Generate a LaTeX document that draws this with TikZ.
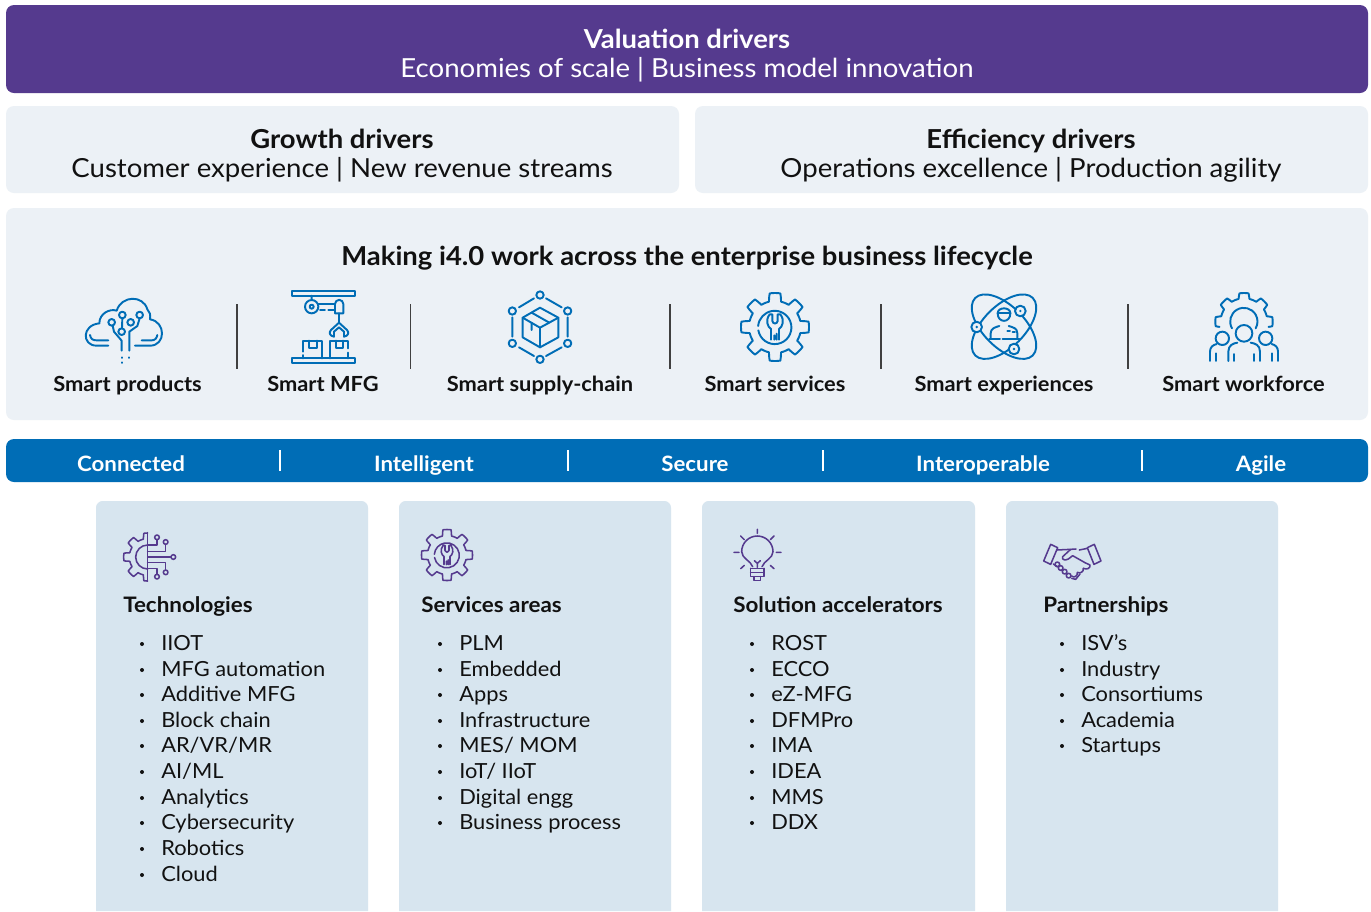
\documentclass[tikz,border=0pt]{standalone}
\usepackage{fontspec}
\setmainfont[FakeStretch=1.05]{Lato}
\definecolor{purp}{HTML}{553A8E}
\definecolor{pale}{HTML}{ECF1F6}
\definecolor{blu}{HTML}{006DB6}
\definecolor{card}{HTML}{D7E5EF}
\definecolor{ink}{HTML}{111111}
\tikzset{
  x=0.75pt,y=-0.75pt,
  head/.style={anchor=base,font=\fontsize{19.6}{22}\selectfont\bfseries,text=ink,inner sep=0pt},
  sub/.style={anchor=base,font=\fontsize{19.7}{22}\selectfont,text=ink,inner sep=0pt},
  smart/.style={anchor=base,font=\fontsize{15.6}{18}\selectfont\bfseries,text=ink,inner sep=0pt},
  barlabel/.style={anchor=base,font=\fontsize{15.9}{18}\selectfont\bfseries,text=white,inner sep=0pt},
  cardtitle/.style={anchor=base west,font=\fontsize{16}{18}\selectfont\bfseries,text=ink,inner sep=0pt},
  item/.style={anchor=base west,font=\fontsize{15.6}{18}\selectfont,text=ink,inner sep=0pt},
  ico/.style={draw=blu,line width=1.45pt,line cap=round,line join=round},
  pico/.style={draw=purp,line width=1.15pt,line cap=round,line join=round},
  divider/.style={draw=black!75,line width=0.9pt},
  bardiv/.style={draw=white,line width=0.9pt},
}
% gear outline: centre at the origin of the current scope
\newcommand{\gearline}[4]{% inner R, outer R, domain start, domain end
  plot[samples=241,domain=#3:#4,smooth] (\x:{#1+(#2-#1)*max(0,min(1,0.5+1.7*cos(8*(\x+90))))})}
\newcommand{\wrenchicon}{%
  (-50,10) arc[start angle=170,end angle=-175,radius=50]
  (-16,-38) .. controls (-30,-20) and (-22,0) .. (-12,6) -- (-12,38)
  (16,-38) .. controls (30,-20) and (22,0) .. (12,6) -- (12,38)
  (-16,-38) -- (-8,-38) -- (-8,-18) .. controls (-6,-8) and (6,-8) .. (8,-18) -- (8,-38) -- (16,-38)
  (-2,25) -- (-2,38) (5,20) -- (5,38)}
\newcommand{\listitems}[3]{% name prefix, text x, items
  \foreach \yy/\txt [count=\ii] in {#3}{
    \node[item] (#1\ii) at (#2,\yy) {\txt};
    \fill[ink] (#2-19,\yy-6) circle[radius=2];
  }}
\begin{document}
\begin{tikzpicture}
\useasboundingbox (0,0) rectangle (1371,911);
\fill[white] (0,0) rectangle (1371,911);
% bands
\fill[purp,rounded corners=6pt] (6,5) rectangle (1368,93);
\fill[pale,rounded corners=6pt] (6,106) rectangle (679,193);
\fill[pale,rounded corners=6pt] (695,106) rectangle (1368,193);
\fill[pale,rounded corners=6pt] (6,208) rectangle (1368,420);
\fill[blu,rounded corners=6pt] (6,439) rectangle (1368,482);
\foreach \xa/\xb in {96/368,399/671,702/975,1006/1278}{
  \fill[card] (\xa,911) [rounded corners=5pt] -- (\xa,501) -- (\xb,501) [sharp corners] -- (\xb,911) -- cycle;
}
% top texts
\node[head,text=white] (val) at (687,48) {Valuation drivers};
\node[sub,text=white] (vals) at (687,77) {Economies of scale | Business model innovation};
\node[head] (gro) at (342,148) {Growth drivers};
\node[sub] (gros) at (342,177) {Customer experience | New revenue streams};
\node[head] (eff) at (1031,148) {Efficiency drivers};
\node[sub] (effs) at (1031,177) {Operations excellence | Production agility};
\node[head] (mak) at (687,265) {Making i4.0 work across the enterprise business lifecycle};
% smart labels
\node[smart] (s1) at (127.5,391) {Smart products};
\node[smart] (s2) at (323,391) {Smart MFG};
\node[smart] (s3) at (540,391) {Smart supply-chain};
\node[smart] (s4) at (775,391) {Smart services};
\node[smart] (s5) at (1004,391) {Smart experiences};
\node[smart] (s6) at (1243.5,391) {Smart workforce};
\foreach \xx in {237,410.5,670,881,1128}{\draw[divider] (\xx,304) -- (\xx,369);}
% bar
\node[barlabel] (b1) at (131,471) {Connected};
\node[barlabel] (b2) at (424,471) {Intelligent};
\node[barlabel] (b3) at (695,471) {Secure};
\node[barlabel] (b4) at (983,471) {Interoperable};
\node[barlabel] (b5) at (1261,471) {Agile};
\foreach \xx in {280,568,823,1142}{\draw[bardiv] (\xx,450) -- (\xx,471);}
% cards
\node[cardtitle] (t1) at (123,612) {Technologies};
\node[cardtitle] (t2) at (421,612) {Services areas};
\node[cardtitle] (t3) at (733,612) {Solution accelerators};
\node[cardtitle] (t4) at (1043,612) {Partnerships};
\listitems{a}{161}{650/IIOT,676/MFG automation,701/Additive MFG,727/Block chain,752/{AR/VR/MR},778/{AI/ML},804/Analytics,829/Cybersecurity,855/Robotics,881/Cloud}
\listitems{c}{459}{650/PLM,676/Embedded,701/Apps,727/Infrastructure,752/{MES/ MOM},778/{IoT/ IIoT},804/Digital engg,829/Business process}
\listitems{d}{771}{650/ROST,676/ECCO,701/eZ-MFG,727/DFMPro,752/IMA,778/IDEA,804/MMS,829/DDX}
\listitems{e}{1081}{650/ISV’s,676/Industry,701/Consortiums,727/Academia,752/Startups}
% ---------- Smart products
\begin{scope}[shift={(40,280)},scale=1/3]
\draw[ico] (205,197) -- (170,197) .. controls (125,197) and (125,135) .. (178,130)
  .. controls (178,100) and (210,85) .. (230,92) .. controls (245,45) and (310,45) .. (322,88)
  .. controls (330,95) and (332,105) .. (330,118) .. controls (378,125) and (378,197) .. (330,197) -- (285,197);
\draw[ico] (150,165) .. controls (152,178) and (160,181) .. (170,181) -- (205,181);
\draw[ico] (305,181) -- (335,181) .. controls (345,181) and (350,175) .. (352,165);
\draw[ico] (215,127) circle[radius=10] (247,105) circle[radius=10] (245,155) circle[radius=10] (272,127) circle[radius=10] (299,105) circle[radius=10];
\draw[ico] (247,115) -- (246,145) (218,137) -- (222,155) -- (245,182) -- (245,212);
\draw[ico] (299,115) -- (292,138) -- (268,155) -- (268,212);
\draw[ico] (245,232) -- (245,234) (245,247) -- (245,249) (268,232) -- (268,234);
\end{scope}
% ---------- Smart MFG
\begin{scope}[shift={(40,280)},scale=1/3]
\draw[ico] (755,33) rectangle (945,47) (755,235) rectangle (945,248);
\draw[ico] (815,47) -- (815,60) (815,80) circle[radius=20] (815,80) circle[radius=6];
\draw[ico] (835,72) -- (885,72) (840,90) -- (855,90) (865,90) -- (885,90);
\draw[ico] (885,100) -- (885,72) arc[start angle=180,end angle=360,radius=12.5] -- (910,100) -- cycle;
\draw[ico] (897,100) -- (897,128);
\draw[ico] (897,128) -- (873,150) .. controls (865,158) and (870,168) .. (882,170) -- (882,155) -- (897,142) -- (912,155) -- (912,170) .. controls (924,168) and (929,158) .. (921,150) -- cycle;
\draw[ico] (790,215) -- (790,182) -- (845,182) -- (845,235) (790,225) -- (790,235);
\draw[ico] (870,235) -- (870,182) -- (925,182) -- (925,205) (925,218) -- (925,235);
\draw[ico] (808,182) -- (808,205) -- (830,205) -- (830,182) (888,182) -- (888,205) -- (910,205) -- (910,182);
\end{scope}
% ---------- Smart supply-chain
\begin{scope}[shift={(480,280)},scale=1/3]
\draw[ico] (180,45) circle[radius=11] (263,93) circle[radius=11] (263,190) circle[radius=11] (180,238) circle[radius=11] (97,190) circle[radius=11] (97,93) circle[radius=11];
\draw[ico] (198,55) -- (245,82) (263,112) -- (263,170) (245,202) -- (198,228) (162,228) -- (117,202) (97,170) -- (97,112) (117,82) -- (162,55);
\draw[ico] (180,83) -- (235,113) -- (235,172) -- (180,202) -- (128,172) -- (128,113) -- cycle;
\draw[ico] (128,113) -- (180,143) -- (235,113) (180,143) -- (180,202);
\draw[ico] (155,128) -- (155,150) (155,98) -- (208,128);
\end{scope}
% ---------- Smart services
\begin{scope}[shift={(775,327)},scale=1/3]
\draw[ico] \gearline{78}{102}{0}{360};
\draw[ico] (0,-5) ++(0,0) \wrenchicon;
\end{scope}
% ---------- Smart experiences
\begin{scope}[shift={(900,280)},scale=1/3]
\draw[ico] (312,140) ellipse[x radius=122,y radius=62,rotate=45];
\draw[ico] (312,140) ellipse[x radius=122,y radius=62,rotate=-45];
\draw[ico,fill=pale] (361,93) circle[radius=16] (230,141) circle[radius=16] (342,207) circle[radius=16];
\fill[blu] (361,93) circle[radius=4] (230,141) circle[radius=4] (342,207) circle[radius=4];
\draw[ico] (293,100) .. controls (293,80) and (331,80) .. (331,100) .. controls (331,130) and (293,130) .. (293,100);
\draw[ico] (293,100) -- (331,100);
\draw[ico] (272,173) -- (272,160) .. controls (272,145) and (285,142) .. (298,138) (326,138) .. controls (340,142) and (352,145) .. (352,160) -- (352,173);
\draw[ico] (268,176) -- (300,176) (308,176) -- (358,176);
\draw[ico] (322,152) -- (330,152) (338,157) -- (345,157);
\end{scope}
% ---------- Smart workforce
\begin{scope}[shift={(900,280)},scale=1/3]
\begin{scope}[shift={(1032,125)}]
\draw[ico] \gearline{70}{86}{-192}{12};
\draw[ico] (-36,20) arc[start angle=150,end angle=390,radius=41];
\end{scope}
\draw[ico] (1032,160) circle[radius=25] (967,175) circle[radius=20] (1097,175) circle[radius=20];
\draw[ico] (985,243) -- (985,215) .. controls (985,195) and (1000,190) .. (1012,188) (1052,188) .. controls (1065,190) and (1080,195) .. (1080,215) -- (1080,243);
\draw[ico] (930,243) -- (930,215) .. controls (930,200) and (940,195) .. (950,192) (1115,192) .. controls (1125,195) and (1134,200) .. (1134,215) -- (1134,243);
\draw[ico] (947,220) -- (947,243) (1002,222) -- (1002,243) (1062,222) -- (1062,243) (1115,220) -- (1115,243);
\end{scope}
% ---------- Technologies
\begin{scope}[shift={(100,510)},scale=1/3]
\begin{scope}[shift={(143,141)}]
\draw[pico] \gearline{55}{72}{90}{270};
\draw[pico] (0,-36) arc[start angle=-90,end angle=-270,radius=36];
\end{scope}
\draw[pico] (143,68) -- (143,213);
\draw[pico] (171,82) circle[radius=7] (197,96) circle[radius=7] (220,141) circle[radius=7] (197,187) circle[radius=7] (171,200) circle[radius=7];
\draw[pico] (143,105) -- (171,105) -- (171,89) (143,125) -- (197,125) -- (197,103) (143,141) -- (213,141) (143,158) -- (197,158) -- (197,180) (143,176) -- (171,176) -- (171,193);
\end{scope}
% ---------- Services areas
\begin{scope}[shift={(447,555)},scale=1/4]
\draw[pico] \gearline{78}{102}{0}{360};
\draw[pico] (0,-5) ++(0,0) \wrenchicon;
\end{scope}
% ---------- Solution accelerators
\begin{scope}[shift={(710,510)},scale=1/3]
\draw[pico] (128,170) .. controls (122,152) and (95,145) .. (95,125) arc[start angle=180,end angle=360,radius=47] .. controls (189,145) and (162,152) .. (156,170);
\draw[pico] (142,172) -- (142,160) -- (133,152) (142,160) -- (151,152);
\draw[pico] (122,175) -- (162,175) (122,175) -- (122,200) -- (162,200) -- (162,175) (122,187) -- (162,187) (132,200) -- (132,212) -- (152,212) -- (152,200);
\draw[pico] (142,58) -- (142,70) (92,78) -- (103,89) (192,78) -- (181,89) (72,127) -- (87,127) (199,127) -- (213,127) (92,176) -- (103,166) (192,176) -- (181,166);
\end{scope}
% ---------- Partnerships
\begin{scope}[shift={(710,510)},scale=1/3]
\draw[pico] (1022,103) -- (1001,153) -- (1022,163) -- (1043,113) -- cycle;
\draw[pico] (1153,103) -- (1132,113) -- (1152,163) -- (1173,153) -- cycle;
\draw[pico] (1040,120) -- (1082,118) -- (1098,117) (1108,120) -- (1132,115);
\draw[pico] (1082,118) -- (1058,140) .. controls (1054,150) and (1066,152) .. (1075,147) -- (1088,137) -- (1125,158) -- (1140,165) .. controls (1142,175) and (1130,180) .. (1120,175);
\draw[pico] (1030,162) -- (1042,170) (1120,175) .. controls (1122,185) and (1110,192) .. (1102,187) (1102,187) .. controls (1104,198) and (1092,205) .. (1085,198);
\draw[pico] (1042,163) circle[radius=7] (1052,174) circle[radius=7] (1064,185) circle[radius=7] (1076,197) circle[radius=7];
\draw[pico] (1085,205) -- (1097,208) (1097,208) -- (1110,192);
\end{scope}
\end{tikzpicture}
\end{document}
